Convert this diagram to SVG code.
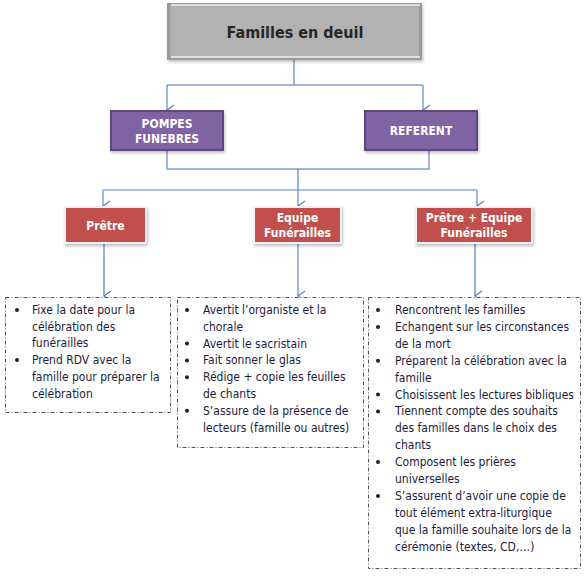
<svg xmlns="http://www.w3.org/2000/svg" width="584" height="576" viewBox="0 0 584 576">
<defs>
<style>
.lst{font-family:"DejaVu Sans Condensed","DejaVu Sans",sans-serif;font-size:12px;fill:#1c1c3c}
.bt{font-family:"DejaVu Sans Condensed","DejaVu Sans",sans-serif;font-size:12px;font-weight:bold;fill:#fff;text-anchor:middle}
.title{font-family:"DejaVu Sans Condensed","DejaVu Sans",sans-serif;font-size:16px;font-weight:bold;fill:#262626;text-anchor:middle}
.con{fill:none;stroke:#7f9fcf;stroke-width:1.5}
.con2{fill:none;stroke:#4f7fc0;stroke-width:1.2}
.purple{fill:#8064a2;stroke:#5d477a;stroke-width:2}
.red{fill:#c0504d;stroke:#f2f2f2;stroke-width:2}
.lbox{fill:#fff;stroke:#555;stroke-width:1;stroke-dasharray:4 2 1 2}
.dot{fill:#1c1c3c}
</style>
<marker id="arr" markerWidth="12" markerHeight="10" refX="6" refY="8" orient="auto-start-reverse" markerUnits="userSpaceOnUse" viewBox="0 0 12 10">
<path d="M1,1 L6,8 L11,1" fill="none" stroke="#5b85c4" stroke-width="1.3"/>
</marker>
<filter id="sh" x="-10%" y="-10%" width="130%" height="140%">
<feDropShadow dx="1" dy="2" stdDeviation="1.5" flood-color="#000" flood-opacity="0.25"/>
</filter>
</defs>
<rect width="584" height="576" fill="#fff"/>

<g id="connectors">
<path class="con" d="M294,60 V85 M167,85 H423"/>
<path class="con" d="M167,85 V110" marker-end="url(#arr)"/>
<path class="con" d="M423,85 V110" marker-end="url(#arr)"/>
<path class="con" d="M167,150 V169 H429 V150"/>
<path class="con2" d="M298,169 V190 M103,190 H477"/>
<path class="con" d="M103,190 V206" marker-end="url(#arr)"/>
<path class="con" d="M298,190 V206" marker-end="url(#arr)"/>
<path class="con" d="M477,190 V206" marker-end="url(#arr)"/>
<path class="con2" d="M104,243 V296" marker-end="url(#arr)"/>
<path class="con" d="M298,243 V296" marker-end="url(#arr)"/>
<path class="con2" d="M475,243 V296" marker-end="url(#arr)"/>
</g>

<g id="familles">
<rect x="167" y="3" width="255" height="57" fill="#e6e6e6" filter="url(#sh)"/>
<rect x="168.5" y="4.5" width="252" height="54" fill="#b2b2b2" stroke="#9a9a9a" stroke-width="3"/>
<line x1="171" y1="5" x2="420" y2="5" stroke="#f4f4f4" stroke-width="1.5"/>
<line x1="171" y1="57" x2="420" y2="57" stroke="#f4f4f4" stroke-width="1.5"/>
<text class="title" x="295" y="38">Familles en deuil</text>
</g>

<g id="pompes">
<rect class="purple" x="111" y="111" width="112" height="39" filter="url(#sh)"/>
<text class="bt" x="167" y="128">POMPES</text>
<text class="bt" x="167" y="143">FUNEBRES</text>
</g>

<g id="referent">
<rect class="purple" x="365" y="111" width="112" height="39" filter="url(#sh)"/>
<text class="bt" x="421" y="135">REFERENT</text>
</g>

<g id="pretre">
<rect class="red" x="65" y="207" width="81" height="36" filter="url(#sh)"/>
<text class="bt" x="105.5" y="230">Prêtre</text>
</g>

<g id="equipe">
<rect class="red" x="254" y="207" width="87" height="36" filter="url(#sh)"/>
<text class="bt" x="297.5" y="222">Equipe</text>
<text class="bt" x="297.5" y="237">Funérailles</text>
</g>

<g id="pretre-equipe">
<rect class="red" x="416" y="207" width="116" height="36" filter="url(#sh)"/>
<text class="bt" x="474" y="222">Prêtre + Equipe</text>
<text class="bt" x="474" y="237">Funérailles</text>
</g>

<g id="liste-pretre">
<rect class="lbox" x="5.5" y="297.5" width="165" height="115" stroke="#777"/>
<circle class="dot" cx="17" cy="310" r="2"/>
<circle class="dot" cx="17" cy="360" r="2"/>
<text class="lst">
<tspan x="32" y="314">Fixe la date pour la</tspan>
<tspan x="32" y="330.7">célébration des</tspan>
<tspan x="32" y="347.4">funérailles</tspan>
<tspan x="32" y="364.1">Prend RDV avec la</tspan>
<tspan x="32" y="380.8">famille pour préparer la</tspan>
<tspan x="32" y="397.5">célébration</tspan>
</text>
</g>

<g id="liste-equipe">
<rect class="lbox" x="177.5" y="297.5" width="186" height="150" stroke="#222"/>
<circle class="dot" cx="187" cy="310" r="2"/>
<circle class="dot" cx="187" cy="343.6" r="2"/>
<circle class="dot" cx="187" cy="360.4" r="2"/>
<circle class="dot" cx="187" cy="377.2" r="2"/>
<circle class="dot" cx="187" cy="410.8" r="2"/>
<text class="lst">
<tspan x="203" y="314">Avertit l’organiste et la</tspan>
<tspan x="203" y="330.8">chorale</tspan>
<tspan x="203" y="347.6">Avertit le sacristain</tspan>
<tspan x="203" y="364.4">Fait sonner le glas</tspan>
<tspan x="203" y="381.2">Rédige + copie les feuilles</tspan>
<tspan x="203" y="398">de chants</tspan>
<tspan x="203" y="414.8">S’assure de la présence de</tspan>
<tspan x="203" y="431.6">lecteurs (famille ou autres)</tspan>
</text>
</g>

<g id="liste-commune">
<rect class="lbox" x="368.5" y="297.5" width="212" height="271" stroke="#666"/>
<circle class="dot" cx="378" cy="310" r="2"/>
<circle class="dot" cx="378" cy="326.9" r="2"/>
<circle class="dot" cx="378" cy="360.7" r="2"/>
<circle class="dot" cx="378" cy="394.5" r="2"/>
<circle class="dot" cx="378" cy="411.4" r="2"/>
<circle class="dot" cx="378" cy="462.1" r="2"/>
<circle class="dot" cx="378" cy="495.9" r="2"/>
<text class="lst">
<tspan x="395" y="314">Rencontrent les familles</tspan>
<tspan x="395" y="330.9">Echangent sur les circonstances</tspan>
<tspan x="395" y="347.8">de la mort</tspan>
<tspan x="395" y="364.7">Préparent la célébration avec la</tspan>
<tspan x="395" y="381.6">famille</tspan>
<tspan x="395" y="398.5">Choisissent les lectures bibliques</tspan>
<tspan x="395" y="415.4">Tiennent compte des souhaits</tspan>
<tspan x="395" y="432.3">des familles dans le choix des</tspan>
<tspan x="395" y="449.2">chants</tspan>
<tspan x="395" y="466.1">Composent les prières</tspan>
<tspan x="395" y="483">universelles</tspan>
<tspan x="395" y="499.9">S’assurent d’avoir une copie de</tspan>
<tspan x="395" y="516.8">tout élément extra-liturgique</tspan>
<tspan x="395" y="533.7">que la famille souhaite lors de la</tspan>
<tspan x="395" y="550.6">cérémonie (textes, CD,…)</tspan>
</text>
</g>
</svg>
